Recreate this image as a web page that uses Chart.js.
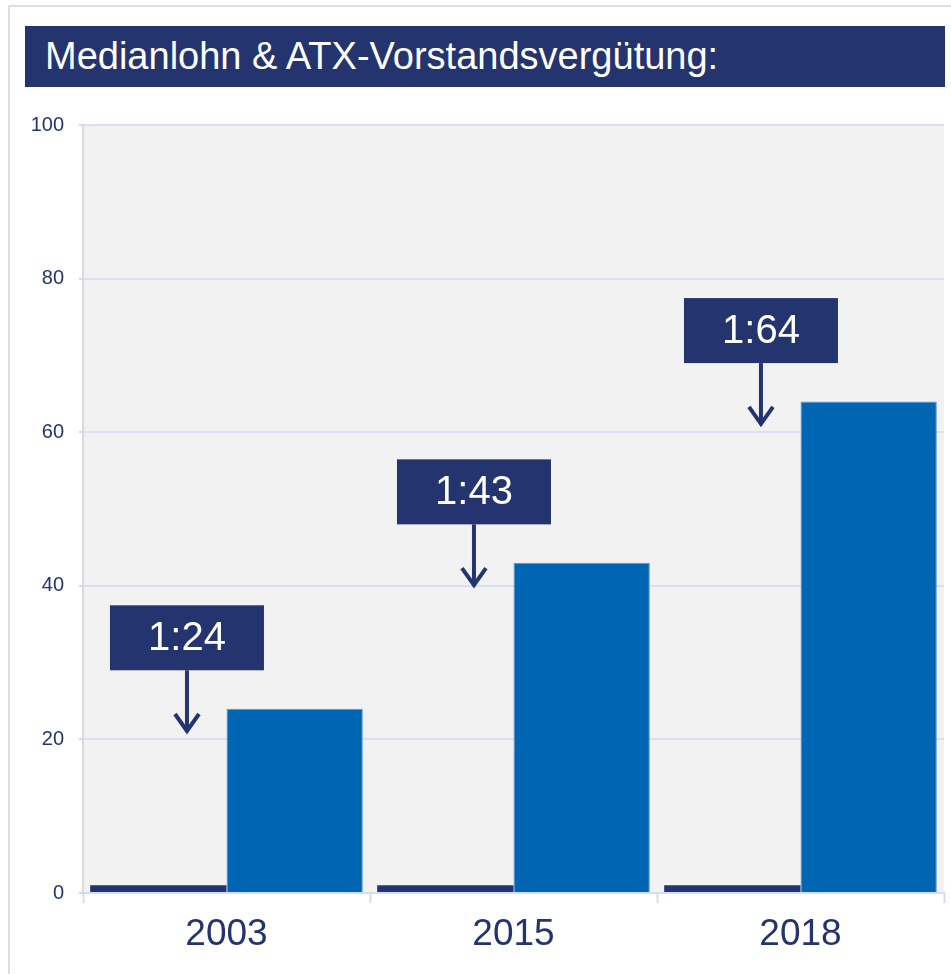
<!DOCTYPE html>
<html>
<head>
<meta charset="utf-8">
<script src="https://cdn.jsdelivr.net/npm/chart.js@4/dist/chart.umd.min.js"></script>
<style>
    body { margin: 0; background: #fff; }
    #wrap { position: relative; width: 951px; height: 974px; overflow: hidden; }
    #frame { position: absolute; left: 8px; top: 5px; width: 960px; height: 980px;
             border-left: 2px solid #dedede; border-top: 2px solid #dedede; }
    #title { position: absolute; left: 25px; top: 26px; width: 920px; height: 61px;
             background: #24346f; color: #fff; font: 38px 'Liberation Sans', Arial, sans-serif;
             line-height: 61px; padding-left: 20px; box-sizing: border-box; white-space: nowrap; }
    canvas { position: absolute; left: 0; top: 0; }
</style>
</head>
<body>
<div id="wrap">
    <div id="frame"></div>
    <div id="title">Medianlohn &amp; ATX-Vorstandsvergütung:</div>
    <canvas id="chart" width="951" height="974"></canvas>
</div>
<script>
// Daten
const years = ['2003', '2015', '2018'];
const medianlohn = [1, 1, 1];
const vorstand = [24, 43, 64];
const ratioLabels = ['1:24', '1:43', '1:64'];
const yTicks = [0, 20, 40, 60, 80, 100];

const NAVY = '#24346f';
const BLUE = '#0066b3';
const FONT = "'Liberation Sans', Arial, sans-serif";

// Hintergrund der Plotfläche
const plotBg = {
    id: 'plotBg',
    beforeDraw(chart) {
        const { ctx, chartArea: a } = chart;
        ctx.save();
        ctx.fillStyle = '#f2f2f2';
        ctx.fillRect(a.left, a.top, a.right - a.left, a.bottom - a.top);
        ctx.restore();
    }
};

// Verhältnis-Boxen mit Pfeil
const ratioBoxes = {
    id: 'ratioBoxes',
    afterDatasetsDraw(chart) {
        const { ctx } = chart;
        const y = chart.scales.y;
        const bars = chart.getDatasetMeta(0).data;
        ctx.save();
        bars.forEach((bar, i) => {
            const cx = bar.x + bar.width * 0.21;
            const bottom = y.getPixelForValue(vorstand[i] + 5);
            const tip = y.getPixelForValue(vorstand[i] - 3.3);
            const w = 154, h = 65;
            ctx.fillStyle = NAVY;
            ctx.fillRect(cx - w / 2, bottom - h, w, h);
            ctx.fillStyle = '#fff';
            ctx.font = '40px ' + FONT;
            ctx.textAlign = 'center';
            ctx.textBaseline = 'middle';
            ctx.fillText(ratioLabels[i], cx, bottom - h / 2 + 1);
            // Pfeil
            ctx.strokeStyle = NAVY;
            ctx.lineWidth = 4;
            ctx.beginPath();
            ctx.moveTo(cx, bottom);
            ctx.lineTo(cx, tip - 2);
            ctx.stroke();
            ctx.beginPath();
            ctx.moveTo(cx - 12, tip - 20);
            ctx.lineTo(cx, tip - 3);
            ctx.lineTo(cx + 12, tip - 20);
            ctx.stroke();
        });
        ctx.restore();
    }
};

new Chart(document.getElementById('chart'), {
    type: 'bar',
    data: {
        labels: years,
        datasets: [
            { label: 'Medianlohn', data: medianlohn, backgroundColor: NAVY },
            { label: 'ATX-Vorstandsvergütung', data: vorstand, backgroundColor: BLUE,
              borderColor: '#5f97cc', borderWidth: 1 }
        ]
    },
    options: {
        responsive: false,
        animation: false,
        layout: { padding: { top: 125, right: 7, bottom: 0, left: 0 } },
        datasets: { bar: { categoryPercentage: 0.95, barPercentage: 1.0 } },
        plugins: { legend: { display: false }, tooltip: { enabled: false } },
        scales: {
            x: {
                afterFit(scale) { scale.height = 81; },
                grid: { offset: true, drawOnChartArea: false, drawTicks: true,
                        tickLength: 10, tickColor: '#d4dcf0', tickWidth: 2 },
                border: { color: '#d4dcf0', width: 2 },
                ticks: { color: NAVY, font: { family: FONT, size: 37 }, padding: 10 }
            },
            y: {
                min: 0,
                max: 100,
                afterFit(scale) { scale.width = 83; },
                afterBuildTicks(scale) { scale.ticks = yTicks.map(v => ({ value: v })); },
                grid: { color: '#dadff2', lineWidth: 2, tickLength: 4, tickColor: '#d9d9d9' },
                border: { color: '#d9d9d9', width: 2 },
                ticks: { color: NAVY, font: { family: FONT, size: 20 }, padding: 15 }
            }
        }
    },
    plugins: [plotBg, ratioBoxes]
});
</script>
</body>
</html>
